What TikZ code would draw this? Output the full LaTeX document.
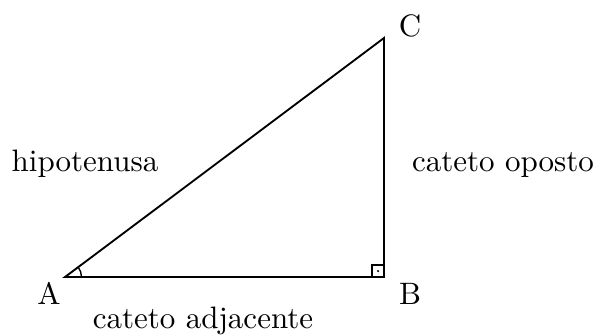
\documentclass[tikz,border=0pt]{standalone}
\usetikzlibrary{calc}
\begin{document}
\begin{tikzpicture}[x=0.3226pt,y=-0.3226pt,
  lbl/.style={anchor=base,inner sep=0pt,font=\fontsize{10}{12}\selectfont},
  edge/.style={line width=0.6pt,line join=miter}]
\useasboundingbox (0,0) rectangle (598,334);
\coordinate (A) at (65,277);
\coordinate (B) at (384,277);
\coordinate (C) at (384,38);
\draw[edge] (A) -- (B) -- (C) -- cycle;
% right angle mark
\coordinate (sq1) at (372,277);
\coordinate (sq2) at (372,265);
\coordinate (sq3) at (384,265);
\draw[line width=0.45pt] (sq1) -- (sq2) -- (sq3);
\coordinate (dot) at (378,271);
\fill (dot) circle[radius=0.4pt];
% angle at A
\coordinate (arcstart) at (81.5,277);
\draw[line width=0.45pt] (arcstart) arc[start angle=0,end angle=-36.8,radius=16.5];
% labels
\node[lbl] (la) at (49,304) {A};
\node[lbl] (lb) at (410,304) {B};
\node[lbl] (lc) at (410,36.5) {C};
\node[lbl] (hip) at (85,171.5) {hipotenusa};
\node[lbl] (op) at (503,171.5) {cateto oposto};
\node[lbl] (adj) at (203,328) {cateto adjacente};
\end{tikzpicture}
\end{document}
